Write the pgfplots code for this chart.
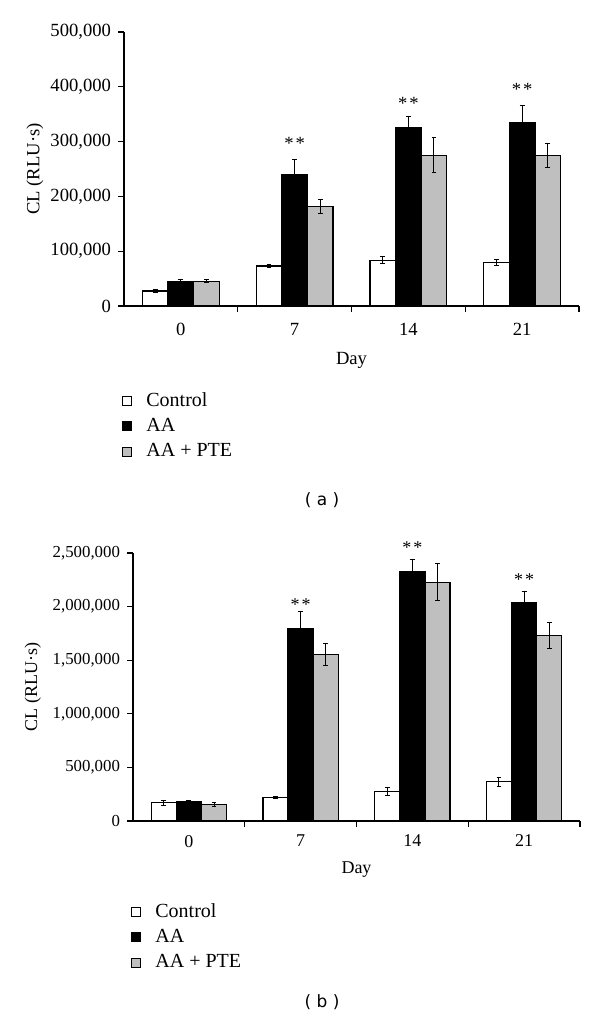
\documentclass[border=0pt]{standalone}
\usepackage{fontspec}
\setmainfont{Liberation Serif}
\newfontfamily\capfont{DejaVu Sans}
\usepackage{pgfplots}
\pgfplotsset{compat=1.18}

\definecolor{barGray}{HTML}{BFBFBF}

\pgfplotsset{
  clbar/.style={
    scale only axis, clip=false,
    ybar=0pt, bar width=0.225,
    xmin=-0.5, xmax=3.5, ymin=0,
    axis x line*=bottom, axis y line*=left,
    axis line style={line width=0.6pt},
    tick align=outside, major tick length=3pt,
    tick style={line width=0.6pt, black},
    xtick={0.5,1.5,2.5,3.5}, xticklabels={},
    extra x ticks={0,1,2,3}, extra x tick labels={0,7,14,21},
    extra x tick style={major tick length=0pt},
    scaled y ticks=false,
    yticklabel style={/pgf/number format/fixed, /pgf/number format/1000 sep={,},
      /pgf/number format/assume math mode=true},
    legend cell align=left,
    legend style={at={(axis description cs:0,0)}, anchor=north west,
      draw=none, fill=none, inner sep=0pt, row sep=0.5pt,
      font=\fontsize{10}{12}\selectfont,
      /tikz/every odd column/.append style={column sep=5pt}},
  },
  sq/.style={draw=black, line width=0.6pt, fill=#1,
    legend image code/.code={\draw[black, line width=0.5pt, fill=#1] (0pt,-2.25pt) rectangle (4.5pt,2.25pt);},
    error bars/.cd, y dir=both, y explicit,
    error bar style={line width=0.5pt, black},
    error mark options={rotate=90, mark size=1.2pt, line width=0.5pt, black}},
}

\begin{document}
\begin{tikzpicture}
\useasboundingbox (0,0) rectangle (300pt,511pt);

% (a)
\begin{axis}[clbar,
  at={(62pt,358pt)}, anchor=south west,
  width=227.5pt, height=137pt,
  ymax=500000, ytick={0,100000,200000,300000,400000,500000},
  ticklabel style={font=\fontsize{9.3}{11}\selectfont},
  xticklabel style={yshift=-5pt},
  label style={font=\fontsize{9.3}{11}\selectfont},
  ylabel={CL (RLU·s)},
  ylabel style={at={(axis description cs:-0.196,0.5)}, anchor=center},
  xlabel={Day},
  xlabel style={at={(axis description cs:0.5,0)}, anchor=center, yshift=-27pt},
  legend style={xshift=-1pt, yshift=-41pt},
]
\addplot[sq=white] coordinates {
  (0,27300) +- (0,3500)
  (1,72900) +- (0,3000)
  (2,83200) +- (0,6500)
  (3,79000) +- (0,6000)};
\addplot[sq=black] coordinates {
  (0,45000) +- (0,2500)
  (1,240600) +- (0,26000)
  (2,325600) +- (0,21000)
  (3,334000) +- (0,32000)};
\addplot[sq=barGray] coordinates {
  (0,45000) +- (0,3000)
  (1,181000) +- (0,13000)
  (2,275000) +- (0,32000)
  (3,274600) +- (0,22000)};
\legend{Control,AA,AA + PTE}
\node[font=\fontsize{9.3}{11}\selectfont, yshift=-1pt] at (axis cs:1,300000) {*\kern1pt*};
\node[font=\fontsize{9.3}{11}\selectfont, yshift=-1pt] at (axis cs:2,373600) {*\kern1pt*};
\node[font=\fontsize{9.3}{11}\selectfont, yshift=-1pt] at (axis cs:3,398500) {*\kern1pt*};
\end{axis}

% (b)
\begin{axis}[clbar,
  at={(66.5pt,100.5pt)}, anchor=south west,
  width=223.5pt, height=134pt,
  ymax=2500000, ytick={0,500000,1000000,1500000,2000000,2500000},
  yticklabel style={font=\fontsize{8.4}{10}\selectfont},
  xticklabel style={font=\fontsize{9}{11}\selectfont, yshift=-3.5pt},
  label style={font=\fontsize{9}{11}\selectfont},
  ylabel={CL (RLU·s)},
  ylabel style={at={(axis description cs:-0.224,0.5)}, anchor=center},
  xlabel={Day},
  xlabel style={at={(axis description cs:0.5,0)}, anchor=center, yshift=-24.5pt},
  legend style={xshift=-1pt, yshift=-39pt},
]
\addplot[sq=white] coordinates {
  (0,171000) +- (0,22000)
  (1,220000) +- (0,10000)
  (2,276000) +- (0,34000)
  (3,366000) +- (0,40000)};
\addplot[sq=black] coordinates {
  (0,180000) +- (0,12000)
  (1,1792000) +- (0,158000)
  (2,2329000) +- (0,115000)
  (3,2034000) +- (0,106000)};
\addplot[sq=barGray] coordinates {
  (0,152000) +- (0,18000)
  (1,1553000) +- (0,100000)
  (2,2227000) +- (0,171000)
  (3,1730000) +- (0,124000)};
\legend{Control,AA,AA + PTE}
\node[font=\fontsize{9}{11}\selectfont, yshift=-1pt] at (axis cs:1,2040000) {*\kern1pt*};
\node[font=\fontsize{9}{11}\selectfont, yshift=-1pt] at (axis cs:2,2571000) {*\kern1pt*};
\node[font=\fontsize{9}{11}\selectfont, yshift=-1pt] at (axis cs:3,2267000) {*\kern1pt*};
\end{axis}

\node[font=\capfont\fontsize{8.5}{10}\selectfont] at (161pt,261pt) {( a )};
\node[font=\capfont\fontsize{8.5}{10}\selectfont] at (161pt,10pt) {( b )};
\end{tikzpicture}
\end{document}
